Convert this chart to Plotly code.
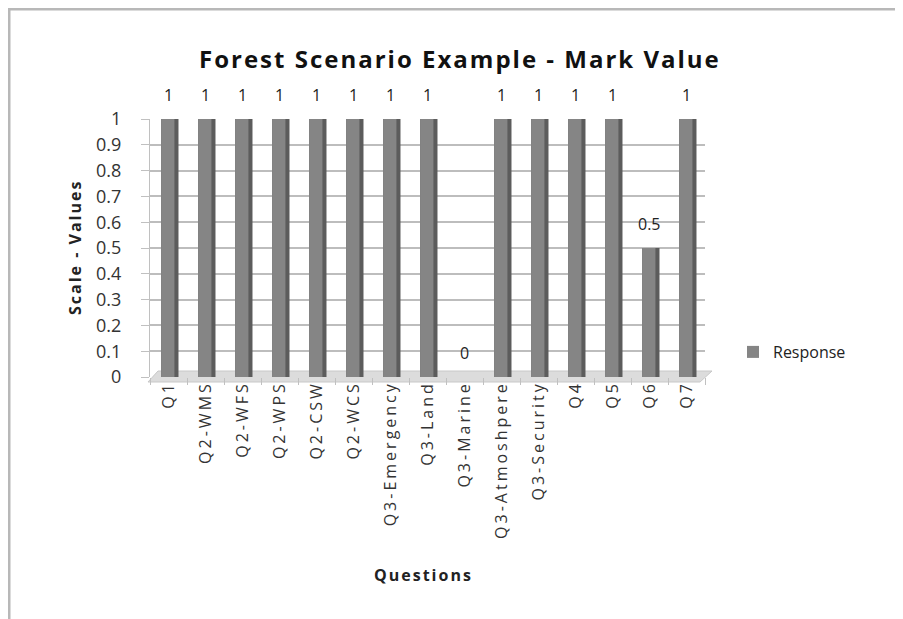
import plotly.graph_objects as go

categories = ["Q1", "Q2-WMS", "Q2-WFS", "Q2-WPS", "Q2-CSW", "Q2-WCS", "Q3-Emergency",
              "Q3-Land", "Q3-Marine", "Q3-Atmoshpere", "Q3-Security", "Q4", "Q5", "Q6", "Q7"]
response = [1, 1, 1, 1, 1, 1, 1, 1, 0, 1, 1, 1, 1, 0.5, 1]
y_ticks = [0, 0.1, 0.2, 0.3, 0.4, 0.5, 0.6, 0.7, 0.8, 0.9, 1]
y_tick_labels = ["0", "0.1", "0.2", "0.3", "0.4", "0.5", "0.6", "0.7", "0.8", "0.9", "1"]

FONT = "Open Sans"
OFF = 8  # page body margin
W, H = 903 - OFF, 619 - OFF
ML, MT = 150 - OFF, 119 - OFF
MR, MB = 198, 242
pw = W - ML - MR
ph = H - MT - MB

def px_x(x):
    # reference-image pixel x -> paper x
    return (x - OFF - ML) / pw

def px_y(y):
    # reference-image pixel y -> paper y
    return (H - MB - (y - OFF)) / ph

fig = go.Figure()
# dark side face (3D look)
fig.add_trace(go.Bar(x=categories, y=response, width=0.47, offset=-0.2,
                     marker=dict(color="#5c5c5c", line=dict(width=0)),
                     showlegend=False, hoverinfo="skip"))
# front face
fig.add_trace(go.Bar(x=categories, y=response, width=0.36, offset=-0.2, name="Response",
                     marker=dict(color="#858585", line=dict(width=0)), showlegend=True))

annotations = []
for c, v in zip(categories, response):
    annotations.append(dict(x=c, y=v, xref="x", yref="y", text=f"{v:g}", showarrow=False,
                            yshift=24, xanchor="center", yanchor="middle",
                            font=dict(family=FONT, size=16, color="#222")))

annotations.append(dict(x=px_x(460), y=px_y(58), xref="paper", yref="paper",
                        xanchor="center", yanchor="middle",
                        text="<b>Forest Scenario Example - Mark Value</b>", showarrow=False,
                        font=dict(family=FONT, size=24, color="#111")))
annotations.append(dict(x=px_x(75), y=px_y(248), xref="paper", yref="paper",
                        xanchor="center", yanchor="middle",
                        text="<b>Scale - Values</b>", textangle=-90, showarrow=False,
                        font=dict(family=FONT, size=16, color="#222")))
annotations.append(dict(x=px_x(423), y=px_y(575), xref="paper", yref="paper",
                        xanchor="center", yanchor="middle",
                        text="<b>Questions</b>", showarrow=False,
                        font=dict(family=FONT, size=16, color="#222")))

shapes = [
    dict(type="line", xref="paper", yref="paper", x0=px_x(8), x1=px_x(903), y0=px_y(9), y1=px_y(9),
         line=dict(color="#b8b8b8", width=3), layer="below"),
    dict(type="line", xref="paper", yref="paper", x0=px_x(9), x1=px_x(9), y0=px_y(8), y1=px_y(619),
         line=dict(color="#b8b8b8", width=3), layer="below"),
    # 3D floor
    dict(type="path", xref="paper", yref="paper", layer="below",
         path=f"M {px_x(148)},{px_y(382)} L {px_x(700)},{px_y(382)} L {px_x(712)},{px_y(371)} "
              f"L {px_x(158)},{px_y(371)} Z",
         fillcolor="#dcdcdc", line=dict(color="#c8c8c8", width=1)),
]

fig.update_layout(
    width=W, height=H,
    margin=dict(l=ML, r=MR, t=MT, b=MB, autoexpand=False),
    paper_bgcolor="white", plot_bgcolor="white",
    barmode="overlay",
    font=dict(family=FONT, color="#222"),
    annotations=annotations, shapes=shapes,
    showlegend=True,
    legend=dict(x=px_x(733), y=px_y(352), xanchor="left", yanchor="middle",
                font=dict(family=FONT, size=16, color="#222"), bgcolor="rgba(0,0,0,0)"),
    xaxis=dict(type="category", tickangle=-90, tickson="boundaries", ticks="outside",
               ticklen=7, tickcolor="#c0c0c0", showline=False,
               showgrid=False, tickfont=dict(family=FONT, size=16, color="#333")),
    yaxis=dict(range=[0, 1], tickvals=y_ticks, ticktext=y_tick_labels, ticks="outside",
               ticklen=8, tickcolor="#c0c0c0", showline=True, linecolor="#c0c0c0",
               showgrid=True, gridcolor="#bdbdbd", gridwidth=1.5, zeroline=False,
               ticklabelstandoff=16,
               tickfont=dict(family=FONT, size=18, color="#333")),
)

fig.write_html("out.html", post_script=(
    "document.querySelectorAll('.xtick text').forEach(function(t){t.style.letterSpacing='3px';});"
    "document.querySelectorAll('.annotation-text').forEach(function(t){"
    "if(t.textContent.length>3){t.style.letterSpacing='2px';}});"
))
